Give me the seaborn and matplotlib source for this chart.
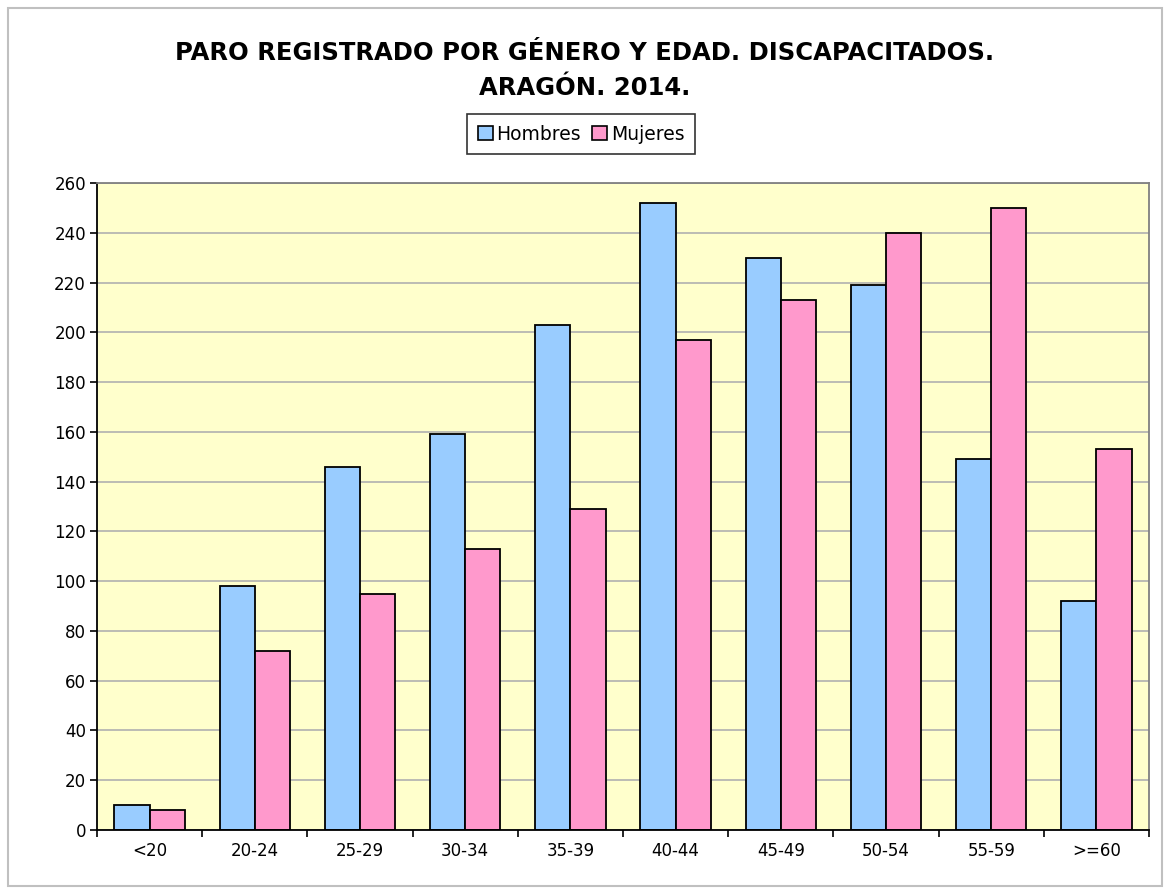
import pandas as pd
import matplotlib.pyplot as plt
import seaborn as sns
from matplotlib.patches import Rectangle

# Age groups and registered unemployment (disabled people), Aragón 2014
age_groups = ['<20', '20-24', '25-29', '30-34', '35-39', '40-44', '45-49', '50-54', '55-59', '>=60']
hombres = [10, 98, 146, 159, 203, 252, 230, 219, 149, 92]
mujeres = [8, 72, 95, 113, 129, 197, 213, 240, 250, 153]
series_names = ['Hombres', 'Mujeres']
y_ticks = list(range(0, 261, 20))

# Long-form table for seaborn
df = pd.DataFrame({
    'edad': age_groups * 2,
    'parados': hombres + mujeres,
    'genero': [series_names[0]] * len(age_groups) + [series_names[1]] * len(age_groups),
})

sns.set_theme(style='white')
plt.rcParams['font.family'] = ['DejaVu Sans']
plt.rcParams['text.color'] = 'black'
plt.rcParams['xtick.color'] = 'black'
plt.rcParams['ytick.color'] = 'black'
plt.rcParams['axes.labelcolor'] = 'black'

fig = plt.figure(figsize=(11.7, 8.94), dpi=100)
ax = fig.add_axes([97 / 1170, 1 - 830 / 894, (1149 - 97) / 1170, (830 - 183) / 894])

sns.barplot(data=df, x='edad', y='parados', hue='genero', order=age_groups,
            hue_order=series_names, palette=['#99CCFF', '#FF99CC'],
            width=0.67, edgecolor='black', linewidth=1.3, saturation=1,
            ax=ax, legend=False)

ax.set_facecolor('#FFFFCC')
ax.set_ylim(0, 260)
ax.set_xlim(-0.5, len(age_groups) - 0.5)
ax.set_yticks(y_ticks)
ax.yaxis.grid(True, color='#B0B0B0', linewidth=1.2)
ax.set_axisbelow(True)
ax.set_xlabel('')
ax.set_ylabel('')

# Excel-style ticks between categories
ax.set_xticks(range(len(age_groups)))
ax.set_xticklabels(age_groups, fontsize=12)
ax.set_xticks([i - 0.5 for i in range(len(age_groups) + 1)], minor=True)
ax.tick_params(axis='x', which='major', length=0, pad=9)
ax.tick_params(axis='x', which='minor', length=5, width=1.2, color='black', direction='out')
ax.tick_params(axis='y', length=5, width=1.2, color='black', direction='out', labelsize=12, pad=3)
ax.xaxis.set_ticks_position('bottom')
ax.yaxis.set_ticks_position('left')

for side in ['top', 'right']:
    ax.spines[side].set_color('#808080')
    ax.spines[side].set_linewidth(1.3)
for side in ['left', 'bottom']:
    ax.spines[side].set_color('black')
    ax.spines[side].set_linewidth(1.3)

fig.text(0.5, 1 - 53 / 894, 'PARO REGISTRADO POR GÉNERO Y EDAD. DISCAPACITADOS.',
         ha='center', va='center', fontsize=17.5, fontweight='bold', color='black')
fig.text(0.5, 1 - 88 / 894, 'ARAGÓN. 2014.',
         ha='center', va='center', fontsize=17.5, fontweight='bold', color='black')

handles = [Rectangle((0, 0), 1, 1, facecolor=c, edgecolor='black', linewidth=1.2)
           for c in ['#99CCFF', '#FF99CC']]
leg = fig.legend(handles, series_names, loc='center', bbox_to_anchor=(581 / 1170, 1 - 134 / 894),
                 ncol=2, frameon=True, fancybox=False, fontsize=13.5, handlelength=0.8,
                 handleheight=0.8, handletextpad=0.2, columnspacing=0.6, borderpad=0.55)
leg.get_frame().set_edgecolor('black')
leg.get_frame().set_linewidth(1.2)

# outer chart border
fig.patches.append(Rectangle((8 / 1170, 8 / 894), 1154 / 1170, 878 / 894,
                             transform=fig.transFigure, fill=False,
                             edgecolor='#C0C0C0', linewidth=1.5))

fig.savefig('out.png', dpi=100, facecolor='white')
